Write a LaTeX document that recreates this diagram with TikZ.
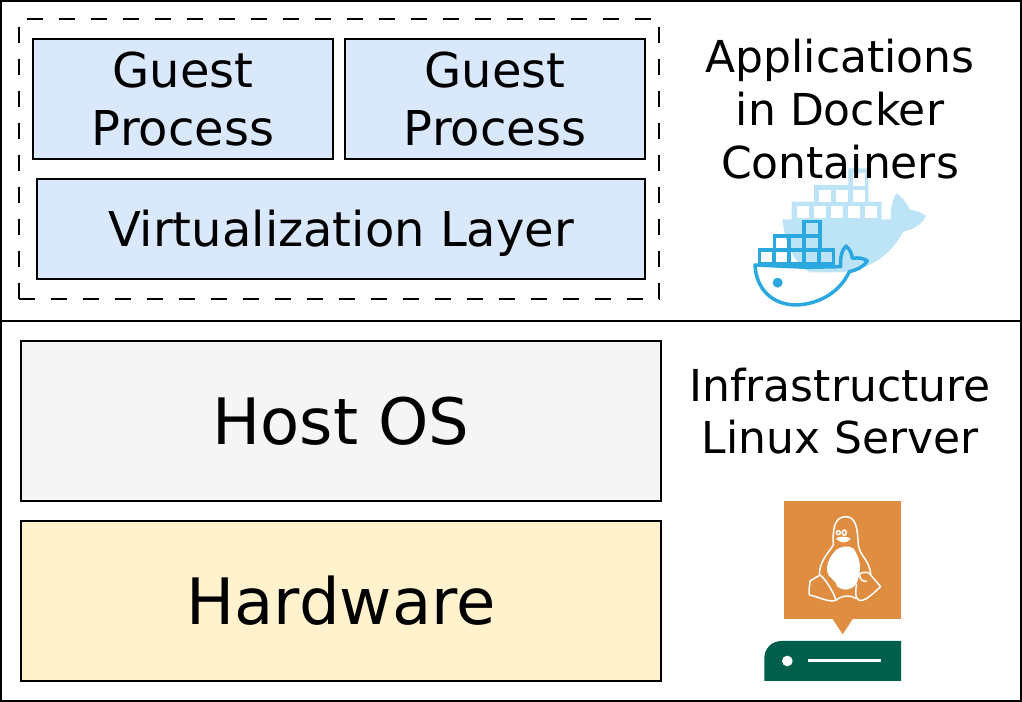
\documentclass[tikz,border=0pt]{standalone}
\usepackage{fontspec}
\setmainfont{DejaVu Sans}
\usepackage{xcolor}
\definecolor{guestblue}{HTML}{DAE8FC}
\definecolor{hostgray}{HTML}{F5F5F5}
\definecolor{hardyellow}{HTML}{FFF2CC}
\definecolor{palewhale}{HTML}{BDE4F6}
\definecolor{darkwhale}{HTML}{2CA8E0}
\definecolor{tuxorange}{HTML}{DF8E41}
\definecolor{servergreen}{HTML}{005F4B}
\def\px{0.75pt}
\tikzset{
  framebox/.style={draw=black,line width=2*\px,anchor=center,inner sep=0pt,align=center},
  guestbox/.style={framebox,fill=guestblue,minimum width=300*\px,minimum height=120*\px,font=\fontsize{36}{43.5}\selectfont},
  bigbox/.style={framebox,minimum width=640*\px,minimum height=160*\px,font=\fontsize{48}{58}\selectfont},
  sidelabel/.style={anchor=center,inner sep=0pt,align=center,font=\fontsize{33}{39.5}\selectfont}
}
\begin{document}
\begin{tikzpicture}[x=0.75pt,y=-0.75pt]
\useasboundingbox (0,0) rectangle (1022,702);
% frames
\node[framebox,minimum width=1020*\px,minimum height=320*\px] (apptier) at (511,161) {};
\node[framebox,minimum width=1020*\px,minimum height=380*\px] (infratier) at (511,511) {};
\node[framebox,dash pattern=on 12pt off 12pt,minimum width=640*\px,minimum height=280*\px] (dockerzone) at (339,159) {};
% boxes
\node[guestbox] (guestone) at (183,99) {Guest\\Process};
\node[guestbox] (guesttwo) at (495,99) {Guest\\Process};
\node[guestbox,minimum width=608*\px,minimum height=100*\px,text height=33pt,text depth=6pt] (virtlayer) at (341,229) {Virtualization Layer};
\node[bigbox,fill=hostgray] (hostos) at (341,421) {Host OS};
\node[bigbox,fill=hardyellow] (hardware) at (341,601) {Hardware};
% docker whales
\begin{scope}[shift={(740,160)},scale=1/3]
  \fill[palewhale] (127,178) -- (155,178) -- (155,125) -- (222,125) -- (222,75) -- (325,75) -- (325,25) -- (385,25)
    -- (385,125) -- (425,125) -- (425,178) -- (452,178) .. controls (452,140) and (460,110) .. (470,100)
    .. controls (490,115) and (505,135) .. (510,150) .. controls (530,150) and (545,158) .. (558,168)
    .. controls (545,195) and (520,208) .. (490,215) .. controls (450,290) and (380,335) .. (290,337)
    -- (210,337) .. controls (160,310) and (135,250) .. (127,178) -- cycle;
  \foreach \cx/\cy in {170/138,221/138,272/138,323/138,374/138,236/89,287/89,338/89,338/40}
    \fill[white] (\cx,\cy) rectangle +(37,37);
  \begin{scope}[draw=darkwhale,line width=3.5*\px]
    \draw (58,270) rectangle (102,312) (102,270) rectangle (147,312) (147,270) rectangle (192,312)
      (192,270) rectangle (237,312) (237,270) rectangle (280,312)
      (103,228) rectangle (147,270) (147,228) rectangle (192,270) (192,228) rectangle (240,270)
      (192,185) rectangle (240,228);
    \draw[line join=round] (45,315) -- (200,322) -- (302,320) .. controls (300,295) and (305,270) .. (318,258)
      .. controls (330,268) and (335,280) .. (337,295) .. controls (355,292) and (370,295) .. (382,302)
      .. controls (370,322) and (350,330) .. (328,335) .. controls (300,395) and (240,432) .. (170,435)
      .. controls (95,435) and (48,385) .. (45,315) -- cycle;
  \end{scope}
  \fill[darkwhale] (113,368) circle (15);
\end{scope}
% linux server
\begin{scope}[shift={(750,495)},scale=1/3]
  \fill[tuxorange] (102,18) rectangle (453,372);
  \fill[tuxorange] (248,372) -- (308,372) -- (278,418) -- cycle;
  \fill[servergreen] (43,558) -- (43,490) .. controls (43,460) and (65,438) .. (95,438) -- (453,438) -- (453,558) -- cycle;
  \fill[white] (112,498) circle (16);
  \draw[white,line width=3*\px] (173,498) -- (393,498);
  \begin{scope}[draw=white,line width=1.5*\px,line join=round]
    \fill[white] (258,165) .. controls (228,195) and (222,235) .. (245,250) .. controls (255,262) and (262,265) .. (262,275)
      .. controls (285,290) and (305,285) .. (320,265) .. controls (330,235) and (340,205) .. (310,160)
      .. controls (295,150) and (270,155) .. (258,165) -- cycle;
    \draw (250,150) .. controls (248,110) and (250,65) .. (287,65) .. controls (322,65) and (322,110) .. (325,150)
      .. controls (330,185) and (360,195) .. (362,240);
    \draw (250,150) .. controls (235,175) and (210,195) .. (208,238);
    \draw (180,258) -- (210,240) .. controls (225,250) and (250,290) .. (258,315) .. controls (240,325) and (205,305) .. (178,300)
      .. controls (175,285) and (180,270) .. (180,258) -- cycle;
    \draw (328,238) .. controls (345,225) and (362,235) .. (362,240) -- (392,275) .. controls (370,295) and (345,320) .. (328,316)
      .. controls (315,312) and (315,290) .. (320,268);
    \draw (328,238) .. controls (330,255) and (340,262) .. (350,258);
    \draw (258,315) .. controls (280,300) and (300,300) .. (318,310);
    \draw (265,113) circle (6) (283,113) ellipse (6 and 8);
    \fill[white] (258,130) .. controls (270,145) and (290,148) .. (302,130) .. controls (290,125) and (270,122) .. (258,130) -- cycle;
  \end{scope}
\end{scope}
% side labels
\node[sidelabel] (applabel) at (840,109) {Applications\\in Docker\\Containers};
\node[sidelabel] (infralabel) at (840,411) {Infrastructure\\Linux Server};
\end{tikzpicture}
\end{document}
